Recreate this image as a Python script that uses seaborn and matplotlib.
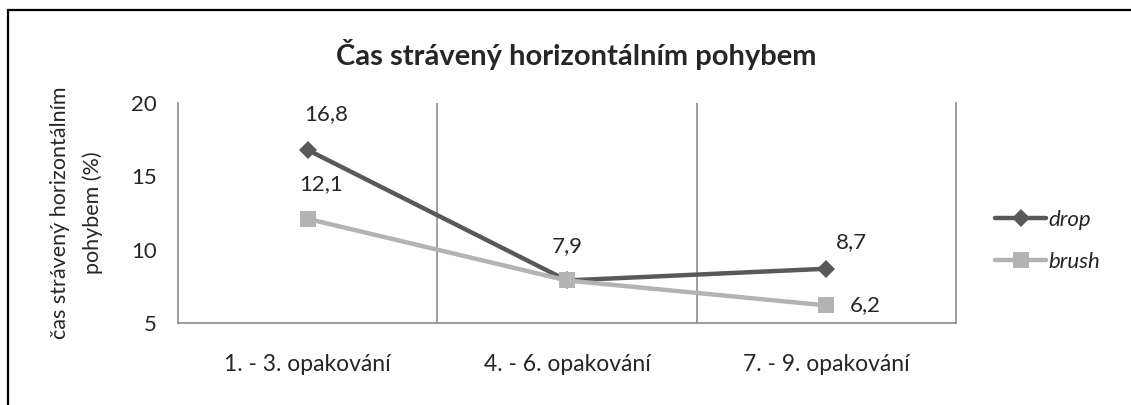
import matplotlib
matplotlib.use("Agg")
import matplotlib.pyplot as plt
import seaborn as sns
import pandas as pd
from matplotlib.patches import Rectangle
from matplotlib.lines import Line2D

categories = ["1. - 3. opakování", "4. - 6. opakování", "7. - 9. opakování"]
drop = [16.8, 7.9, 8.7]
brush = [12.1, 7.9, 6.2]
drop_labels = ["16,8", "7,9", "8,7"]
brush_labels = ["12,1", "", "6,2"]
yticks = [5, 10, 15, 20]

sns.set_theme(style="white")
plt.rcParams['font.family'] = ['Lato', 'DejaVu Sans']

df = pd.DataFrame({
    "kat": categories * 2,
    "x": list(range(len(categories))) * 2,
    "val": drop + brush,
    "serie": ["drop"] * 3 + ["brush"] * 3,
})

fig = plt.figure(figsize=(11.31, 4.05), dpi=100)
ax = fig.add_axes([178/1131, 82/405, 778/1131, 220/405])

c_drop = "#595959"
c_brush = "#b3b3b3"
grid_c = "#8c8c8c"
FS = 16

sns.lineplot(data=df[df.serie == "drop"], x="x", y="val", ax=ax, color=c_drop,
             lw=3.2, marker="D", markersize=9, markeredgewidth=0, legend=False, zorder=3)
sns.lineplot(data=df[df.serie == "brush"], x="x", y="val", ax=ax, color=c_brush,
             lw=3.2, marker="s", markersize=11, markeredgewidth=0, legend=False, zorder=4)

ax.set_xlim(-0.5, 2.5)
ax.set_ylim(5, 20)
ax.set_yticks(yticks)
ax.set_yticklabels([str(v) for v in yticks], fontsize=FS)
ax.set_xticks(range(len(categories)))
ax.set_xticklabels(categories, fontsize=16.5)
ax.set_xticks([-0.5, 0.5, 1.5, 2.5], minor=True)
ax.tick_params(axis="x", which="major", length=0, pad=22)
ax.tick_params(axis="x", which="minor", length=7, width=1.2, color=grid_c, direction="out")
ax.tick_params(axis="y", length=7, width=1.2, color=grid_c, direction="out", pad=8)
for b in [0.5, 1.5]:
    ax.axvline(b, color=grid_c, lw=1.2, zorder=1)
for s in ["left", "right", "bottom"]:
    ax.spines[s].set_color(grid_c)
    ax.spines[s].set_linewidth(1.2)
ax.spines["top"].set_visible(False)
ax.set_xlabel("")
ax.set_ylabel("čas strávený horizontálním\npohybem (%)", fontsize=15.5, linespacing=1.75)
ax.yaxis.set_label_coords(-(178 - 103) / 778, 0.5)

# data labels
drop_off = [(13, 26), (0, 25), (18, 19)]
for i, (v, lab) in enumerate(zip(drop, drop_labels)):
    if lab:
        ax.annotate(lab, (i, v), xytext=drop_off[i], textcoords="offset points",
                    ha="center", va="center", fontsize=FS)
brush_off = [(10, 25), (0, 0), (28, 0)]
for i, (v, lab) in enumerate(zip(brush, brush_labels)):
    if lab:
        ax.annotate(lab, (i, v), xytext=brush_off[i], textcoords="offset points",
                    ha="center", va="center", fontsize=FS)

fig.text(576/1131, 1 - 55/405, "Čas strávený horizontálním pohybem", ha="center", va="center",
         fontsize=21, fontweight="bold")

handles = [Line2D([], [], color=c_drop, lw=3.2, marker="D", markersize=9, markeredgewidth=0),
           Line2D([], [], color=c_brush, lw=3.2, marker="s", markersize=11, markeredgewidth=0)]
leg = fig.legend(handles, ["drop", "brush"], loc="center left", bbox_to_anchor=(995/1131, 1 - 241/405),
                 frameon=False, fontsize=FS, handlelength=2.3, handletextpad=0.1, labelspacing=1.0,
                 borderaxespad=0, borderpad=0)
for t in leg.get_texts():
    t.set_fontstyle("italic")

fig.patches.append(Rectangle((8/1131, -0.1), 1.2, 1 - 10/405 + 0.1, transform=fig.transFigure,
                             fill=False, edgecolor="black", lw=1.6))

fig.savefig("out.png", dpi=100)
